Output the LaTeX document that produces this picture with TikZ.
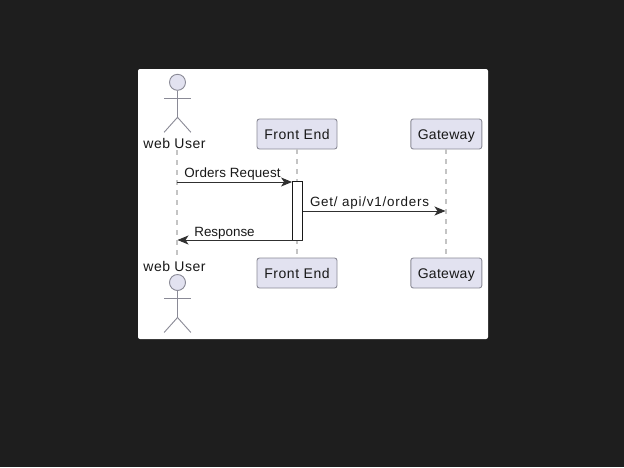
\documentclass[tikz,border=0pt]{standalone}
\usepackage{fontspec}
\setmainfont{Liberation Sans}
\usetikzlibrary{arrows.meta}
\definecolor{pagebg}{HTML}{1E1E1E}
\definecolor{partfill}{HTML}{E2E2F0}
\definecolor{partline}{HTML}{8A8A96}
\definecolor{lifeline}{HTML}{C4C4C4}
\definecolor{inkdark}{HTML}{181818}
\definecolor{msgline}{HTML}{303030}
\newcommand{\spaced}[1]{\addfontfeature{LetterSpace=#1}}
\tikzset{
  x=1pt,y=-1pt,
  part/.style={draw=partline,fill=partfill,line width=.9pt,rounded corners=2.5pt,minimum height=30pt,inner sep=0pt,text height=11pt,text depth=0pt,font=\fontsize{14}{16}\selectfont,text=inkdark},
  lifeln/.style={draw=lifeline,line width=2pt,dash pattern=on 5pt off 5pt},
  msg/.style={draw=msgline,line width=.9pt,-{Stealth[length=11pt,width=9pt,inset=3pt]}},
  msglabel/.style={font=\fontsize{13.4}{15}\selectfont,text=inkdark,inner sep=0pt,text height=10pt,text depth=0pt},
  actorname/.style={font=\fontsize{14}{16}\selectfont,text=inkdark,inner sep=0pt,text height=10pt,text depth=0pt},
  limb/.style={draw=partline,line width=.9pt},
  head/.style={circle,draw=partline,fill=partfill,line width=.9pt,minimum size=16pt,inner sep=0pt},
  actbox/.style={draw=inkdark,fill=white,line width=.9pt,minimum width=10pt,inner sep=0pt}
}
\newcommand{\actorfig}[3]{% name, x, head y
  \node[head] (#1) at (#2,#3) {};
  \coordinate (#1hip) at (#2,#3+35);
  \coordinate (#1la) at (#2-13.2,#3+16);
  \coordinate (#1ra) at (#2+13.2,#3+16);
  \coordinate (#1ll) at (#2-13.4,#3+50);
  \coordinate (#1rl) at (#2+13.4,#3+50);
  \draw[limb] (#1.south) -- (#1hip);
  \draw[limb] (#1la) -- (#1ra);
  \draw[limb] (#1ll) -- (#1hip) -- (#1rl);
}
\begin{document}
\begin{tikzpicture}
\useasboundingbox (0,0) rectangle (624,467);
\fill[pagebg] (0,0) rectangle (624,467);
\fill[white,rounded corners=2pt] (138,69) rectangle (488,339);

% lifelines
\node[part,minimum width=80pt] (feT) at (297,134) {\spaced{4}Front End};
\node[part,minimum width=71pt] (gwT) at (446.3,134) {\spaced{2}Gateway};
\node[part,minimum width=80pt] (feB) at (297,273) {\spaced{4}Front End};
\node[part,minimum width=71pt] (gwB) at (446.3,273) {\spaced{2}Gateway};
\coordinate (uT) at (177,150);
\coordinate (uB) at (177,255.5);
\draw[lifeln] (uT) -- (uB);
\draw[lifeln] (feT.south) -- (feB.north);
\draw[lifeln] (gwT.south) -- (gwB.north);

% actors
\actorfig{uHeadT}{177.5}{82.3}
\node[actorname] (uNameT) at (174.5,143) {\spaced{3.6}web User};
\node[actorname] (uNameB) at (174.5,266) {\spaced{3.6}web User};
\actorfig{uHeadB}{177.5}{282.5}

% activation
\node[actbox,minimum height=58.5pt] (act) at (297.5,210.8) {};

% messages
\coordinate (m1s) at (177,182);
\coordinate (m2e) at (445.5,211);
\coordinate (m3e) at (177.5,240);
\draw[msg] (m1s) -- (m1s -| act.west);
\draw[msg] (act.east |- m2e) -- (m2e);
\draw[msg] (act.east |- m3e) -- (m3e);

\node[msglabel] (l1) at (232.5,172) {\spaced{1}Orders Request};
\node[msglabel] (l2) at (369.5,201) {\spaced{5.8}Get/ api/v1/orders};
\node[msglabel] (l3) at (224.5,231) {Response};
\end{tikzpicture}
\end{document}
